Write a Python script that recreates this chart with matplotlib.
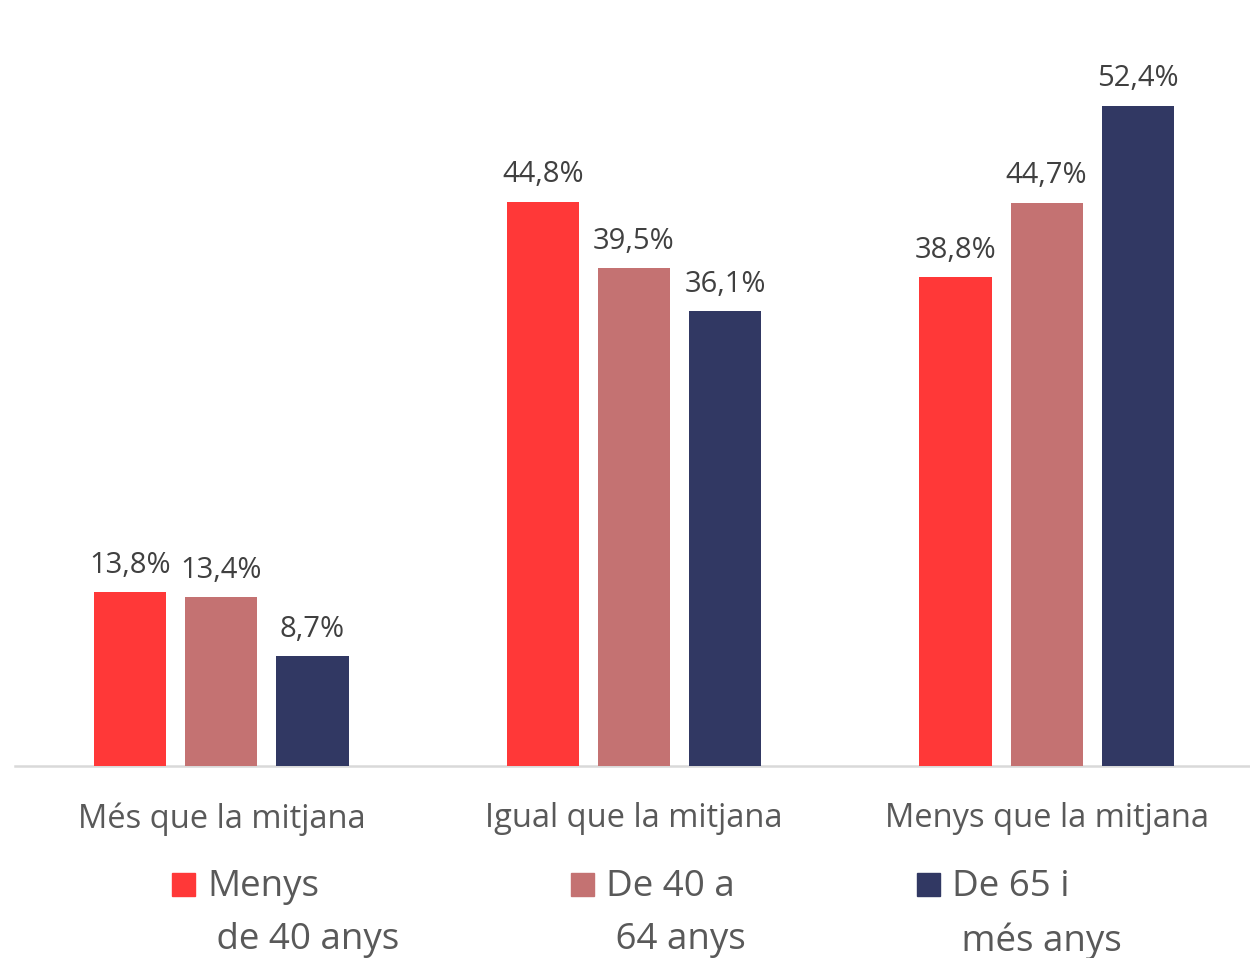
import numpy as np
import matplotlib
matplotlib.use("Agg")
import matplotlib.pyplot as plt
from matplotlib.patches import Rectangle

categories = ["Més que la mitjana", "Igual que la mitjana", "Menys que la mitjana"]
series_names = ["Menys\n de 40 anys", "De 40 a\n 64 anys", "De 65 i\n més anys"]
values = {
    "Menys\n de 40 anys": [13.8, 44.8, 38.8],
    "De 40 a\n 64 anys": [13.4, 39.5, 44.7],
    "De 65 i\n més anys": [8.7, 36.1, 52.4],
}
colors = ["#FF3838", "#C47272", "#313863"]

TEXT_COLOR = "#404040"
LABEL_COLOR = "#595959"
BAR_WIDTH = 0.175
OFFSET = 0.221

plt.rcParams["font.family"] = ["Open Sans", "DejaVu Sans"]

fig = plt.figure(figsize=(12.5, 9.58), dpi=100)
ax = fig.add_axes([15 / 1250, 192 / 958, 1 - 15 / 1250, 693 / 958])

x = np.arange(len(categories))
for i, name in enumerate(series_names):
    pos = x + (i - 1) * OFFSET
    bars = ax.bar(pos, values[name], width=BAR_WIDTH, color=colors[i], zorder=3)
    for b, v in zip(bars, values[name]):
        ax.annotate(
            f"{v:.1f}%".replace(".", ","),
            (b.get_x() + b.get_width() / 2, v),
            xytext=(0, 9),
            textcoords="offset points",
            ha="center",
            va="bottom",
            fontsize=21,
            color=TEXT_COLOR,
        )

ax.set_xlim(-0.5, 2.5 - 3 / 412.5)
ax.set_ylim(0, 55)
ax.set_yticks([])
ax.set_xticks(x)
ax.set_xticklabels(categories, fontsize=23.5, color=LABEL_COLOR)
ax.tick_params(axis="x", length=0, pad=26)
for side in ["top", "right", "left"]:
    ax.spines[side].set_visible(False)
ax.spines["bottom"].set_color("#D9D9D9")
ax.spines["bottom"].set_linewidth(1.8)
ax.patch.set_alpha(0)

# legend, drawn by hand so the square lines up with the first text line
sq_x = [172, 571, 917]
txt_x = [207, 606, 952]
for i, name in enumerate(series_names):
    fig.patches.append(
        Rectangle(
            (sq_x[i] / 1250, 1 - 896 / 958),
            23 / 1250,
            23 / 958,
            transform=fig.transFigure,
            color=colors[i],
        )
    )
    fig.text(
        txt_x[i] / 1250,
        1 - 869 / 958,
        name,
        ha="left",
        va="top",
        fontsize=26.5,
        color=LABEL_COLOR,
        linespacing=1.62,
        transform=fig.transFigure,
    )

fig.savefig("out.png", dpi=100)
